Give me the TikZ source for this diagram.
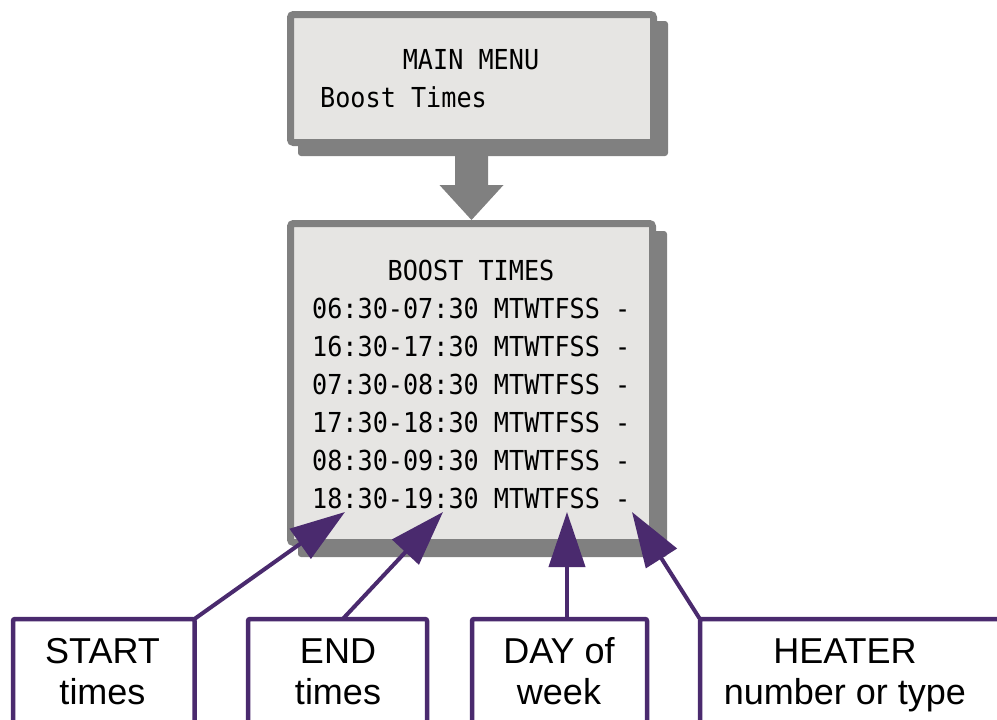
\documentclass[tikz,border=0pt]{standalone}
\usepackage{fontspec}
\setmainfont{Liberation Sans}
\newfontfamily\lcd[FakeStretch=0.915]{DejaVu Sans Mono}
\usetikzlibrary{arrows.meta,backgrounds,calc}
\definecolor{lcdgray}{HTML}{808080}
\definecolor{lcdfill}{HTML}{E6E5E3}
\definecolor{callpurple}{RGB}{74,42,110}
\tikzset{
  lcdbox/.style={draw=lcdgray, fill=lcdfill, line width=7pt, rounded corners=3pt, outer sep=3.5pt, inner sep=0pt},
  lcdtext/.style={font=\lcd\fontsize{27.5}{38}\selectfont, inner sep=0pt, text=black},
  callbox/.style={draw=callpurple, line width=4.5pt, rounded corners=2pt, inner sep=0pt, minimum height=161pt},
  calltext/.style={font=\fontsize{36}{41}\selectfont, inner sep=0pt, anchor=base, text=black},
  callarrow/.style={draw=callpurple, line width=4pt, -{Triangle[length=55pt,width=36pt]}},
  shadowfill/.style={fill=lcdgray, rounded corners=3pt}
}
\begin{document}
\begin{tikzpicture}[x=1pt,y=-1pt]
\path[use as bounding box, clip] (0,0) rectangle (997,720);

% LCD boxes
\node[lcdbox, minimum width=363pt, minimum height=128pt] (menu) at (472,78.5) {};
\node[lcdbox, minimum width=362pt, minimum height=319pt] (boost) at (471.5,383) {};
\begin{scope}[on background layer]
  \fill[white] (0,0) rectangle (997,720);
  \fill[shadowfill] ([shift={(11,10)}]menu.north west) rectangle ([shift={(11,10)}]menu.south east);
  \fill[shadowfill] ([shift={(11,11)}]boost.north west) rectangle ([shift={(11,11)}]boost.south east);
\end{scope}

% big gray arrow
\fill[lcdgray] (boost.north) -- ++(32,-35) -- ++(-15.5,0) -- ++(0,-40) -- ++(-33,0) -- ++(0,40) -- ++(-15.5,0) -- cycle;

% LCD texts
\node[lcdtext, anchor=base] (mm) at (471,69) {MAIN MENU};
\node[lcdtext, anchor=base west] (bt) at (320,107) {Boost Times};
\node[lcdtext, anchor=base] (bh) at (471,280) {BOOST TIMES};
\node[lcdtext, anchor=base west] (r1) at (312,318) {06:30-07:30 MTWTFSS -};
\node[lcdtext, anchor=base west] (r2) at (312,356) {16:30-17:30 MTWTFSS -};
\node[lcdtext, anchor=base west] (r3) at (312,394) {07:30-08:30 MTWTFSS -};
\node[lcdtext, anchor=base west] (r4) at (312,432) {17:30-18:30 MTWTFSS -};
\node[lcdtext, anchor=base west] (r5) at (312,470) {08:30-09:30 MTWTFSS -};
\node[lcdtext, anchor=base west] (r6) at (312,508) {18:30-19:30 MTWTFSS -};

% callout boxes
\node[callbox, minimum width=181.5pt] (start) at (103.75,699.5) {};
\node[callbox, minimum width=179pt] (endb) at (337.5,699.5) {};
\node[callbox, minimum width=175pt] (day) at (559.5,699.5) {};
\node[callbox, minimum width=300pt] (heater) at (850,699.5) {};

\node[calltext] (t1a) at (102.5,663) {START};
\node[calltext] (t1b) at (102.5,704) {times};
\node[calltext] (t2a) at (338,663) {END};
\node[calltext] (t2b) at (338,704) {times};
\node[calltext] (t3a) at (559,663) {DAY of};
\node[calltext] (t3b) at (559,704) {week};
\node[calltext] (t4a) at (845,663) {HEATER};
\node[calltext] (t4b) at (845,704) {number or type};

% arrow targets
\coordinate (pstart) at (345,512);
\coordinate (pend) at (443,512);
\coordinate (pday) at (567,512);
\coordinate (pheat) at (632,512);

\draw[callarrow] ([shift={(-2,2)}]start.north east) -- (pstart);
\draw[callarrow] ([xshift=5.5pt, yshift=-2pt]endb.north) -- (pend);
\draw[callarrow] ([xshift=7.5pt, yshift=-2pt]day.north) -- (pday);
\draw[callarrow] ([shift={(2,2)}]heater.north west) -- (pheat);
\end{tikzpicture}
\end{document}
